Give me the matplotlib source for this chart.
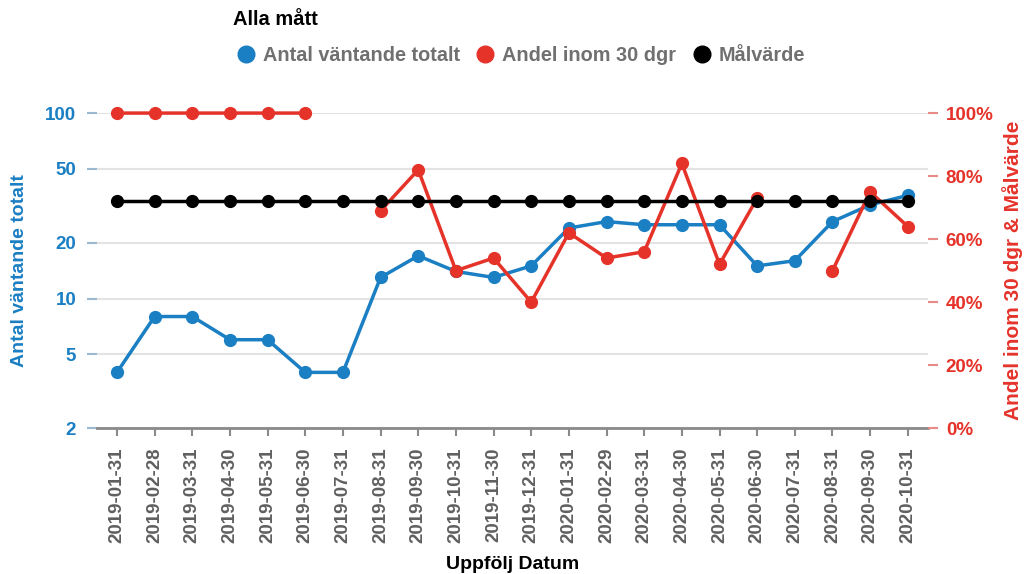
import numpy as np
import matplotlib
matplotlib.use("Agg")
from matplotlib import pyplot as plt
from matplotlib.lines import Line2D
from matplotlib.ticker import FixedLocator, FuncFormatter, NullLocator

plt.rcParams['font.family'] = ['Liberation Sans', 'DejaVu Sans']

# data
dates = ['2019-01-31', '2019-02-28', '2019-03-31', '2019-04-30', '2019-05-31', '2019-06-30',
         '2019-07-31', '2019-08-31', '2019-09-30', '2019-10-31', '2019-11-30', '2019-12-31',
         '2020-01-31', '2020-02-29', '2020-03-31', '2020-04-30', '2020-05-31', '2020-06-30',
         '2020-07-31', '2020-08-31', '2020-09-30', '2020-10-31']
antal = [4, 8, 8, 6, 6, 4, 4, 13, 17, 14, 13, 15, 24, 26, 25, 25, 25, 15, 16, 26, 32, 36]
andel = [100, 100, 100, 100, 100, 100, None, 69, 82, 50, 54, 40,
         62, 54, 56, 84, 52, 73, None, 50, 75, 64]
malvarde = [72] * 22

left_ticks = [2, 5, 10, 20, 50, 100]
right_ticks = [0, 20, 40, 60, 80, 100]

BLUE = '#1b7fc3'
RED = '#e5332a'
GREY = '#606060'

fig = plt.figure(figsize=(10.32, 5.74), dpi=100)
ax = fig.add_axes([0.094, 0.254, 0.805, 0.549])
ax2 = ax.twinx()

x = np.arange(len(dates))
andel_arr = np.array([np.nan if v is None else v for v in andel], dtype=float)

ax.plot(x, antal, color=BLUE, lw=2.5, marker='o', ms=8.5, clip_on=False, zorder=3)
ax2.plot(x, andel_arr, color=RED, lw=2.5, marker='o', ms=8.5, clip_on=False, zorder=3)
ax2.plot(x, malvarde, color='black', lw=2.5, marker='o', ms=8.5, clip_on=False, zorder=4)

# left axis, log scale
ax.set_yscale('log')
ax.set_ylim(2, 100)
ax.yaxis.set_major_locator(FixedLocator(left_ticks))
ax.yaxis.set_minor_locator(NullLocator())
ax.yaxis.set_major_formatter(FuncFormatter(lambda v, p: f'{v:g}'))
ax.set_xlim(-0.53, len(dates) - 0.47)
ax.set_xticks(x)
ax.set_xticklabels(dates, rotation=90, fontsize=13.5, fontweight='bold', color=GREY)
ax.grid(axis='y', color='#e3e3e3', lw=1.5)
ax.set_axisbelow(True)

ax2.set_ylim(0, 100)
ax2.yaxis.set_major_locator(FixedLocator(right_ticks))
ax2.yaxis.set_major_formatter(FuncFormatter(lambda v, p: f'{v:.0f}%'))

for a in (ax, ax2):
    for s in a.spines.values():
        s.set_visible(False)
ax.spines['bottom'].set_visible(True)
ax.spines['bottom'].set_color('#8a8a8a')
ax.spines['bottom'].set_linewidth(2)

ax.tick_params(axis='x', length=6, width=1.5, color='#8a8a8a', pad=8)
ax.tick_params(axis='y', length=7, width=1.5, color='#9bb8cf', pad=8,
               labelsize=13.5, labelcolor=BLUE)
for lbl in ax.get_yticklabels():
    lbl.set_fontweight('bold')
ax2.tick_params(axis='y', length=7, width=1.5, color='#e88a85', pad=6,
                labelsize=13.5, labelcolor=RED)
for lbl in ax2.get_yticklabels():
    lbl.set_fontweight('bold')

ax.set_ylabel('Antal väntande totalt', color=BLUE, fontsize=14, fontweight='bold', labelpad=12)
ax2.set_ylabel('Andel inom 30 dgr & Målvärde', color=RED, fontsize=15, fontweight='bold', labelpad=6)
ax.set_xlabel('Uppfölj Datum', fontsize=14, fontweight='bold', labelpad=9)

# legend
fig.text(0.226, 0.966, 'Alla mått', fontsize=14.5, fontweight='bold', va='center', ha='left')
handles = [Line2D([], [], ls='none', marker='o', ms=12, color=c) for c in (BLUE, RED, 'black')]
leg = fig.legend(handles, ['Antal väntande totalt', 'Andel inom 30 dgr', 'Målvärde'],
                 ncol=3, frameon=False, loc='center left', bbox_to_anchor=(0.213, 0.903),
                 handlelength=0.8, handletextpad=0.45, columnspacing=0.9,
                 prop={'size': 14.3, 'weight': 'bold'})
for t in leg.get_texts():
    t.set_color('#707070')

fig.savefig('out.png', dpi=100)
